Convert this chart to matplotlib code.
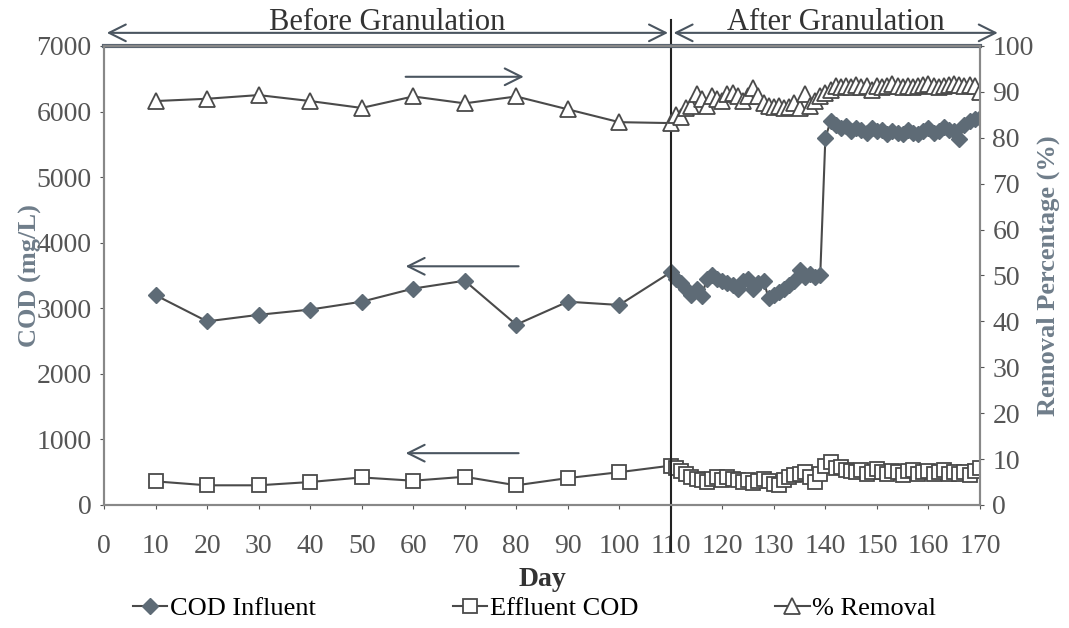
import matplotlib.pyplot as plt
import numpy as np

plt.rcParams['font.family'] = ['Liberation Serif', 'DejaVu Serif']

# Before granulation (every 10 days)
days_before = [10, 20, 30, 40, 50, 60, 70, 80, 90, 100, 110]
infl_before = [3200, 2800, 2900, 2980, 3100, 3300, 3420, 2750, 3100, 3050, 3550]
effl_before = [360, 300, 300, 350, 420, 370, 430, 300, 410, 500, 600]
rem_before = [88.0, 88.5, 89.3, 88.0, 86.5, 89.0, 87.5, 89.0, 86.2, 83.4, 83.2]

# After granulation (near daily)
days_after = list(range(111, 171))
infl_after = [3450, 3380, 3300, 3200, 3300, 3180, 3450, 3500, 3450, 3420,
              3380, 3350, 3300, 3420, 3450, 3300, 3380, 3420, 3150, 3200,
              3250, 3300, 3350, 3420, 3580, 3480, 3520, 3480, 3500, 5600,
              5850, 5800, 5750, 5780, 5700, 5750, 5720, 5680, 5750, 5700,
              5720, 5650, 5700, 5680, 5650, 5720, 5680, 5650, 5700, 5750,
              5680, 5700, 5760, 5720, 5700, 5580, 5800, 5850, 5880, 5900]
effl_after = [560, 520, 480, 420, 400, 380, 350, 400, 430, 380,
              420, 400, 380, 350, 380, 340, 360, 400, 360, 320,
              300, 380, 420, 450, 480, 500, 420, 350, 480, 600,
              650, 560, 580, 540, 520, 500, 530, 480, 510, 550,
              500, 480, 520, 500, 460, 520, 540, 480, 500, 520,
              480, 500, 530, 470, 500, 480, 500, 460, 520, 560]
rem_after = [85.0, 84.5, 86.5, 87.0, 89.5, 88.5, 87.0, 89.0, 88.5, 88.0,
             89.5, 89.8, 89.0, 88.0, 89.0, 90.8, 89.0, 87.5, 87.0, 86.7,
             87.0, 86.4, 86.8, 87.5, 86.5, 89.6, 87.0, 88.0, 89.0, 89.7,
             90.5, 91.2, 91.0, 91.2, 91.0, 91.5, 91.0, 91.3, 90.5, 91.2,
             91.0, 91.2, 91.8, 91.2, 91.0, 91.3, 91.0, 91.2, 91.5, 91.8,
             91.3, 91.0, 91.2, 91.5, 91.8, 91.5, 91.2, 91.6, 91.3, 90.0]

days = days_before + days_after
influent = infl_before + infl_after
effluent = effl_before + effl_after
removal = rem_before + rem_after

line_c = '#4a4a4a'
mark_c = '#5e6b76'
label_c = '#6f7d8a'
tick_c = '#555555'

fig = plt.figure(figsize=(10.69, 6.28), dpi=100)
ax = fig.add_axes([0.0973, 0.1959, 0.8194, 0.7309])
ax2 = ax.twinx()

l1, = ax.plot(days, influent, color=line_c, lw=1.5, marker='D', ms=8,
              mfc=mark_c, mec=mark_c, label='COD Influent')
l2, = ax.plot(days, effluent, color=line_c, lw=1.5, marker='s', ms=10,
              mfc='white', mec=line_c, mew=1.3, label='Effluent COD')
l3, = ax2.plot(days, removal, color=line_c, lw=1.5, marker='^', ms=11,
               mfc='white', mec=line_c, mew=1.3, label='% Removal')

ax.set_xlim(0, 170)
ax.set_ylim(0, 7000)
ax2.set_ylim(0, 100)
ax.set_xticks(np.arange(0, 171, 10))
ax.set_yticks(np.arange(0, 7001, 1000))
ax2.set_yticks(np.arange(0, 101, 10))

for a in (ax, ax2):
    a.tick_params(labelsize=20, colors=tick_c, length=3, direction='out')
    for s in a.spines.values():
        s.set_color('#888888')
        s.set_linewidth(1.5)
ax.tick_params(axis='x', pad=18)
ax.tick_params(axis='y', pad=6)
ax2.tick_params(axis='y', pad=6)
ax.spines['top'].set_linewidth(3)
ax.spines['top'].set_color('#5a6470')

ax.set_xlabel('Day', fontsize=20, fontweight='bold', color='#333333', labelpad=6)
ax.set_ylabel('COD (mg/L)', fontsize=19, fontweight='bold', color=label_c, labelpad=-4)
ax2.set_ylabel('Removal Percentage (%)', fontsize=19, fontweight='bold', color=label_c, labelpad=2)

# vertical separator at day 110
ax.plot([110, 110], [-700, 7400], color='#222222', lw=1.5, clip_on=False)

# top annotations
arr = dict(arrowstyle='<->', color='#4a5560', lw=1.5, mutation_scale=30)
ax.annotate('', xy=(0, 7200), xytext=(110, 7200), arrowprops=arr, annotation_clip=False)
ax.annotate('', xy=(110, 7200), xytext=(174, 7200), arrowprops=arr, annotation_clip=False)
ax.text(55, 7130, 'Before Granulation', ha='center', va='bottom', fontsize=22, color='#333333', clip_on=False)
ax.text(142, 7130, 'After Granulation', ha='center', va='bottom', fontsize=22, color='#333333', clip_on=False)

# direction arrows
arr2 = dict(arrowstyle='->', color='#4a5560', lw=1.5, mutation_scale=30)
ax.annotate('', xy=(82, 6530), xytext=(58, 6530), arrowprops=arr2)
ax.annotate('', xy=(58, 3640), xytext=(81, 3640), arrowprops=arr2)
ax.annotate('', xy=(58, 790), xytext=(81, 790), arrowprops=arr2)

fig.legend(handles=[l1, l2, l3], loc='lower center', bbox_to_anchor=(0.5, -0.025),
           ncol=3, frameon=False, fontsize=19, handlelength=1.3, columnspacing=5.2,
           handletextpad=0.1)

fig.savefig('out.png', dpi=100)
